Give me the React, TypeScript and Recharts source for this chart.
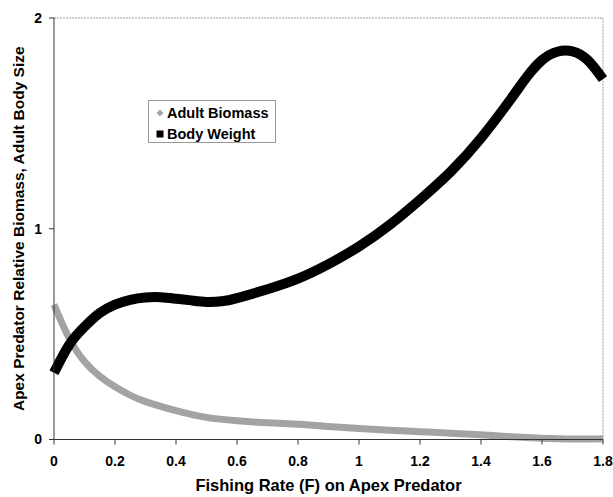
import { LineChart, Line, XAxis, YAxis, Legend, ReferenceLine } from 'recharts';

// Adult biomass (grey curve)
const biomassF = [0, 0.05, 0.1, 0.15, 0.2, 0.25, 0.3, 0.4, 0.5, 0.6, 0.7, 0.8, 0.9, 1.0, 1.1, 1.2, 1.3, 1.4, 1.5, 1.6, 1.7, 1.8];
const adultBiomass = [0.64, 0.48, 0.37, 0.3, 0.25, 0.21, 0.18, 0.137, 0.105, 0.089, 0.079, 0.072, 0.062, 0.052, 0.044, 0.037, 0.03, 0.022, 0.013, 0.006, 0.002, 0.004];

// Body weight (black curve)
const weightF = [0, 0.05, 0.1, 0.15, 0.2, 0.25, 0.3, 0.35, 0.4, 0.45, 0.5, 0.55, 0.6, 0.7, 0.8, 0.9, 1.0, 1.1, 1.2, 1.3, 1.4, 1.5, 1.55, 1.6, 1.65, 1.7, 1.75, 1.8];
const bodyWeight = [0.317, 0.45, 0.535, 0.6, 0.64, 0.663, 0.674, 0.675, 0.668, 0.66, 0.653, 0.656, 0.671, 0.713, 0.763, 0.832, 0.916, 1.018, 1.138, 1.27, 1.43, 1.62, 1.72, 1.8, 1.84, 1.842, 1.8, 1.71];

const xTicks = [0, 0.2, 0.4, 0.6, 0.8, 1, 1.2, 1.4, 1.6, 1.8];
const yTicks = [0, 1, 2];

const biomassData = biomassF.map((f, i) => ({ f, value: adultBiomass[i] }));
const weightData = weightF.map((f, i) => ({ f, value: bodyWeight[i] }));

const tickStyle = { fill: '#000', fontSize: 14, fontWeight: 700 };

function LegendBox(props: any) {
    const items = props.payload || [];
    return (
        <div style={{
            border: '1px solid #999',
            background: '#fff',
            width: 128,
            height: 43,
            padding: '1px 0 0 7px',
            boxSizing: 'border-box',
        }}>
            {items.map((it: any) => (
                <div key={it.value} style={{ display: 'flex', alignItems: 'center', height: 21, fontSize: 14.5, fontWeight: 700, color: '#000', whiteSpace: 'nowrap' }}>
                    <svg width={8} height={8} style={{ marginRight: 3 }}>
                        {it.type === 'diamond'
                            ? <polygon points="4,0.5 7.5,4 4,7.5 0.5,4" fill={it.color} />
                            : <rect x={0.5} y={0.5} width={7} height={7} fill={it.color} />}
                    </svg>
                    {it.value}
                </div>
            ))}
        </div>
    );
}

export default function App() {
    return (
        <div style={{
            position: 'absolute',
            left: 0,
            top: 0,
            width: 613,
            height: 497,
            background: '#fff',
            fontFamily: '"Liberation Sans", Arial, sans-serif',
            fontWeight: 700,
        }}>
            <LineChart width={613} height={497} margin={{ top: 18, right: 10, bottom: 27.5, left: 14 }}>
                <XAxis
                    type="number"
                    dataKey="f"
                    domain={[0, 1.8]}
                    ticks={xTicks}
                    interval={0}
                    height={30}
                    tickSize={5}
                    tickMargin={12}
                    tick={tickStyle}
                    stroke="#333"
                    label={{ value: 'Fishing Rate (F) on Apex Predator', position: 'bottom', offset: 10, style: { fill: '#000', fontSize: 16.5, fontWeight: 700 } }}
                />
                <YAxis
                    type="number"
                    domain={[0, 2]}
                    ticks={yTicks}
                    width={40}
                    tickSize={5}
                    tickMargin={7}
                    tick={tickStyle}
                    stroke="#333"
                    label={{ value: 'Apex Predator Relative Biomass, Adult Body Size', angle: -90, position: 'insideLeft', offset: 4, style: { textAnchor: 'middle', fill: '#000', fontSize: 15.5, fontWeight: 700 } }}
                />
                <ReferenceLine y={2} stroke="#999" strokeDasharray="2 1" />
                <ReferenceLine x={1.8} stroke="#999" strokeDasharray="2 1" />
                <Legend
                    layout="vertical"
                    verticalAlign="middle"
                    align="center"
                    content={<LegendBox />}
                    wrapperStyle={{ left: 148, top: 100, width: 'auto', height: 'auto' }}
                />
                <Line
                    data={biomassData}
                    dataKey="value"
                    name="Adult Biomass"
                    type="natural"
                    stroke="#a3a3a3"
                    strokeWidth={7}
                    dot={false}
                    legendType="diamond"
                    isAnimationActive={false}
                />
                <Line
                    data={weightData}
                    dataKey="value"
                    name="Body Weight"
                    type="natural"
                    stroke="#000"
                    strokeWidth={10}
                    dot={false}
                    legendType="square"
                    isAnimationActive={false}
                />
            </LineChart>
        </div>
    );
}
